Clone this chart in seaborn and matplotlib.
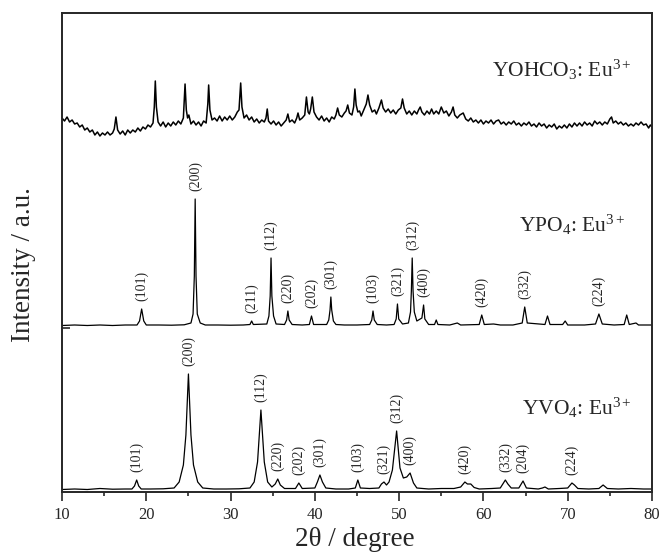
import numpy as np
import pandas as pd
import matplotlib
matplotlib.use('Agg')
import matplotlib.pyplot as plt
from matplotlib.ticker import MultipleLocator
import seaborn as sns

# YVO4:Eu3+ pattern (intensity above its own baseline)
vo4_2theta = [10.0, 11.5, 13.0, 14.5, 16.0, 17.5, 18.3, 18.6, 18.86, 19.1, 19.4, 20.5, 22.0,
              23.3, 23.9, 24.4, 24.7, 25.0, 25.3, 25.6, 26.1, 26.7, 28.0, 29.5, 31.0, 32.3,
              32.8, 33.2, 33.6, 34.0, 34.4, 34.9, 35.3, 35.6, 35.9, 36.4, 37.7, 38.1, 38.5,
              40.0, 40.3, 40.6, 40.9, 41.3, 42.5, 44.0, 44.8, 45.1, 45.4, 46.5, 47.6, 47.9,
              48.2, 48.5, 48.8, 49.2, 49.7, 50.1, 50.5, 50.9, 51.3, 51.7, 52.1, 53.5, 55.0,
              56.5, 57.3, 57.8, 58.1, 58.5, 58.9, 59.5, 61.0, 62.0, 62.3, 62.6, 62.9, 63.3,
              64.2, 64.7, 65.1, 66.5, 67.0, 67.3, 67.7, 69.0, 70.0, 70.3, 70.5, 70.8, 71.2,
              72.5, 73.7, 74.2, 74.7, 76.0, 77.5, 79.0, 80.0]
vo4_int = [0.5, 1.0, 0.5, 1.5, 0.8, 1.0, 1.0, 4, 10, 4, 1.0, 1.0, 1.2,
           2, 8, 25, 55, 116, 55, 25, 8, 2, 1.0, 1.0, 1.2, 2,
           8, 28, 80, 28, 8, 3, 6, 11, 5, 1.5, 1.5, 7, 1.5,
           2, 8, 15, 8, 2, 1.0, 1.0, 2, 10, 2, 1.5, 2, 6,
           8, 5, 8, 20, 59, 22, 12, 13, 17, 7, 2, 1.0, 1.5,
           1.5, 3, 8, 6, 6, 2.5, 1.0, 1.5, 2, 6, 10, 6, 2,
           2, 9, 2, 1.0, 2, 3, 1, 1.5, 2, 5, 7, 5, 1.5,
           1.0, 1.5, 5, 1.5, 1.0, 1.5, 1.0, 1.0]

# YPO4:Eu3+ pattern
po4_2theta = [10.0, 11.5, 13.0, 14.5, 16.0, 17.5, 18.9, 19.2, 19.45, 19.7, 20.0, 21.5, 23.0,
              24.5, 25.3, 25.55, 25.7, 25.8, 25.9, 26.05, 26.4, 27.0, 28.5, 30.0, 31.5, 32.3,
              32.5, 32.7, 34.3, 34.55, 34.7, 34.8, 34.9, 35.1, 35.4, 36.4, 36.65, 36.8, 36.95,
              37.3, 38.5, 39.35, 39.6, 39.85, 41.4, 41.65, 41.8, 41.9, 42.0, 42.2, 42.5, 43.5,
              45.0, 46.5, 46.75, 46.9, 47.05, 47.4, 48.5, 49.4, 49.65, 49.8, 49.95, 50.4, 51.1,
              51.35, 51.45, 51.55, 51.65, 51.8, 52.1, 52.7, 52.9, 53.05, 53.5, 54.2, 54.4, 54.6,
              56.0, 56.9, 57.3, 59.5, 59.8, 60.1, 61.2, 62.0, 63.5, 64.6, 64.9, 65.2, 67.3,
              67.6, 67.9, 69.4, 69.7, 70.0, 72.0, 73.3, 73.7, 74.1, 75.5, 76.7, 77.0, 77.3,
              78.1, 78.4, 80.0]
po4_int = [0.5, 1.0, 0.5, 1.0, 0.5, 1.0, 1.0, 5, 17, 5, 1.0, 1.0, 0.8,
           1.2, 3, 12, 50, 127, 50, 12, 3, 1.0, 1.0, 0.8, 1.0, 1.5,
           5, 1.5, 2, 10, 30, 68, 30, 10, 2, 1.5, 6, 15, 6,
           1.5, 1.0, 1.5, 10, 1.5, 1.5, 6, 16, 29, 16, 5, 1.5, 1.0,
           1.0, 1.5, 6, 15, 6, 1.5, 1.0, 1.5, 7, 22, 7, 2, 3,
           14, 35, 68, 35, 14, 5, 8, 21, 7, 1.5, 1.5, 6, 1.5,
           1.0, 3, 1.0, 1.5, 11, 1.5, 2, 1.0, 1.0, 3, 19, 3, 1.5,
           10, 1.5, 1.5, 5, 1.0, 1.0, 2, 12, 2, 1.0, 1.5, 11, 1.5,
           3, 1, 1.0]

# YOHCO3:Eu3+ pattern (poorly crystallised, noisy)
ohco3_2theta = [10.0, 10.3, 10.6, 10.9, 11.2, 11.5, 11.8, 12.1, 12.4, 12.7, 13.0, 13.3, 13.6,
                13.9, 14.2, 14.5, 14.8, 15.1, 15.4, 15.7, 16.0, 16.2, 16.4, 16.6, 16.9, 17.2,
                17.5, 17.8, 18.1, 18.4, 18.7, 19.0, 19.3, 19.6, 19.9, 20.2, 20.5, 20.8, 20.95,
                21.07, 21.2, 21.4, 21.7, 22.0, 22.3, 22.6, 22.9, 23.2, 23.5, 23.8, 24.1, 24.4,
                24.5, 24.6, 24.75, 24.9, 25.05, 25.3, 25.6, 25.9, 26.2, 26.5, 26.8, 27.1, 27.3,
                27.4, 27.55, 27.8, 28.1, 28.4, 28.7, 29.0, 29.3, 29.6, 29.9, 30.2, 30.5, 30.8,
                31.0, 31.2, 31.35, 31.6, 31.9, 32.2, 32.5, 32.8, 33.1, 33.4, 33.7, 34.0, 34.2,
                34.35, 34.5, 34.8, 35.1, 35.4, 35.7, 36.0, 36.3, 36.6, 36.8, 37.0, 37.3, 37.6,
                37.85, 38.0, 38.2, 38.5, 38.8, 39.0, 39.2, 39.35, 39.5, 39.7, 39.9, 40.2, 40.5,
                40.8, 41.1, 41.4, 41.7, 42.0, 42.3, 42.5, 42.7, 42.9, 43.2, 43.5, 43.7, 43.9,
                44.1, 44.4, 44.6, 44.75, 44.9, 45.1, 45.3, 45.5, 45.8, 46.1, 46.3, 46.5, 46.8,
                47.1, 47.3, 47.6, 47.9, 48.1, 48.4, 48.7, 49.0, 49.3, 49.6, 49.9, 50.2, 50.4,
                50.6, 50.9, 51.2, 51.5, 51.8, 52.1, 52.3, 52.5, 52.7, 53.0, 53.3, 53.6, 53.85,
                54.1, 54.4, 54.7, 55.0, 55.3, 55.6, 55.9, 56.2, 56.4, 56.6, 56.9, 57.2, 57.6,
                57.9, 58.2, 58.5, 58.8, 59.1, 59.4, 59.7, 60.0, 60.3, 60.6, 60.9, 61.2, 61.5,
                61.8, 62.1, 62.4, 62.7, 63.0, 63.3, 63.6, 63.9, 64.2, 64.5, 64.8, 65.1, 65.4,
                65.7, 66.0, 66.3, 66.6, 66.9, 67.2, 67.5, 67.8, 68.1, 68.4, 68.7, 69.0, 69.3,
                69.6, 69.9, 70.2, 70.5, 70.8, 71.1, 71.4, 71.7, 72.0, 72.3, 72.6, 72.9, 73.2,
                73.5, 73.8, 74.1, 74.4, 74.7, 75.0, 75.2, 75.4, 75.7, 76.0, 76.3, 76.6, 76.9,
                77.2, 77.5, 77.8, 78.1, 78.4, 78.7, 79.0, 79.3, 79.6, 79.8, 80.0]
ohco3_int = [14, 11, 15, 10, 12, 8, 9, 5, 7, 2, 4, 0, 2,
             -3, 0, -4, -1, -3, 0, -3, -1, 3, 15, 2, -2, 1,
             -3, 2, -1, 2, 0, 4, 1, 5, 3, 7, 5, 9, 25,
             51, 25, 10, 6, 10, 5, 9, 6, 10, 7, 11, 8, 14,
             30, 48, 22, 14, 17, 8, 11, 7, 10, 6, 11, 9, 28,
             47, 22, 12, 14, 11, 16, 11, 15, 12, 16, 12, 15, 20,
             22, 49, 25, 14, 17, 12, 15, 10, 13, 9, 12, 10, 14,
             23, 11, 8, 11, 7, 10, 6, 9, 12, 18, 10, 12, 9,
             14, 19, 12, 14, 17, 35, 20, 18, 23, 35, 20, 15, 12,
             16, 11, 14, 10, 15, 13, 17, 24, 17, 15, 19, 21, 27,
             19, 17, 25, 43, 27, 20, 21, 16, 22, 28, 37, 27, 20,
             22, 18, 24, 32, 24, 20, 23, 19, 22, 18, 22, 24, 33,
             24, 18, 21, 17, 21, 18, 22, 25, 20, 17, 21, 18, 23,
             18, 21, 18, 25, 19, 21, 16, 20, 25, 17, 14, 17, 19,
             13, 11, 14, 10, 12, 9, 12, 8, 11, 9, 12, 8, 11,
             12, 8, 10, 7, 10, 8, 11, 7, 9, 6, 9, 7, 10,
             6, 8, 5, 9, 6, 8, 4, 7, 5, 8, 3, 6, 4,
             7, 4, 8, 5, 9, 6, 9, 6, 10, 7, 9, 6, 11,
             8, 10, 7, 10, 8, 13, 15, 9, 11, 8, 10, 7, 9,
             6, 8, 6, 9, 7, 10, 7, 8, 4, 7, 5]

# indexed reflections
vo4_hkl = ['(101)', '(200)', '(112)', '(220)', '(202)', '(301)', '(103)', '(321)', '(312)',
           '(400)', '(420)', '(332)', '(204)', '(224)']
vo4_hkl_2theta = [18.86, 25.0, 33.6, 35.6, 38.1, 40.6, 45.1, 48.2, 49.7, 51.3, 57.8, 62.6, 64.7, 70.5]
vo4_hkl_int = [10, 116, 80, 11, 7, 15, 10, 8, 59, 17, 8, 10, 9, 7]

po4_hkl = ['(101)', '(200)', '(211)', '(112)', '(220)', '(202)', '(301)', '(103)', '(321)',
           '(312)', '(400)', '(420)', '(332)', '(224)']
po4_hkl_2theta = [19.45, 25.8, 32.5, 34.8, 36.8, 39.6, 41.9, 46.9, 49.8, 51.55, 52.9, 59.8, 64.9, 73.7]
po4_hkl_int = [17, 127, 5, 68, 15, 10, 29, 15, 22, 68, 21, 11, 19, 12]

samples = ['YVO$_4$: Eu$^{3+}$', 'YPO$_4$: Eu$^{3+}$', 'YOHCO$_3$: Eu$^{3+}$']

sns.set_style('ticks')
plt.rcParams['font.family'] = ['Liberation Serif', 'DejaVu Serif']
plt.rcParams['mathtext.fontset'] = 'custom'
plt.rcParams['mathtext.rm'] = 'Liberation Serif'
plt.rcParams['mathtext.it'] = 'Liberation Serif:italic'

fig = plt.figure(figsize=(6.61, 5.53), dpi=100)
ax = fig.add_axes([62 / 661, 61 / 553, 590 / 661, 479 / 553])

offsets = [2, 166, 360]
traces = [(vo4_2theta, vo4_int), (po4_2theta, po4_int), (ohco3_2theta, ohco3_int)]
widths = [0.9, 0.9, 1.1]
for (tt, inten), off, w in zip(traces, offsets, widths):
    df = pd.DataFrame({'2theta': tt, 'I': np.asarray(inten) + off})
    sns.lineplot(data=df, x='2theta', y='I', ax=ax, color='black', lw=w,
                 estimator=None, sort=False)

# hkl labels
gap = 8
for names, pos, hgt, off in [(vo4_hkl, vo4_hkl_2theta, vo4_hkl_int, offsets[0]),
                             (po4_hkl, po4_hkl_2theta, po4_hkl_int, offsets[1])]:
    for n, p, h in zip(names, pos, hgt):
        ax.text(p, off + h + gap, n, rotation=90, ha='center', va='bottom', fontsize=10)

# sample names
ax.text(64.6, 77, samples[0], fontsize=15.5, va='baseline')
ax.text(64.2, 260, samples[1], fontsize=15.5, va='baseline')
ax.text(61.0, 415, samples[2], fontsize=15.5, va='baseline')

ax.set_xlim(10, 80)
ax.set_ylim(0, 479)
ax.set_xticks(range(10, 81, 10))
ax.xaxis.set_minor_locator(MultipleLocator(5))
ax.set_yticks([164])
ax.set_yticklabels([])
ax.tick_params(axis='x', which='major', direction='out', length=6.5, width=1.2,
               labelsize=12, pad=4)
ax.tick_params(axis='x', which='minor', direction='out', length=3, width=1.2)
ax.tick_params(axis='y', direction='in', length=6, width=1.2)
for s in ax.spines.values():
    s.set_linewidth(1.4)
    s.set_visible(True)

ax.set_xlabel('2θ / degree', fontsize=19.5)
ax.set_ylabel('Intensity / a.u.', fontsize=19.5)
ax.xaxis.set_label_coords(0.496, -0.073)
ax.yaxis.set_label_coords(-0.044, 0.474)

fig.savefig('out.png', dpi=100)
